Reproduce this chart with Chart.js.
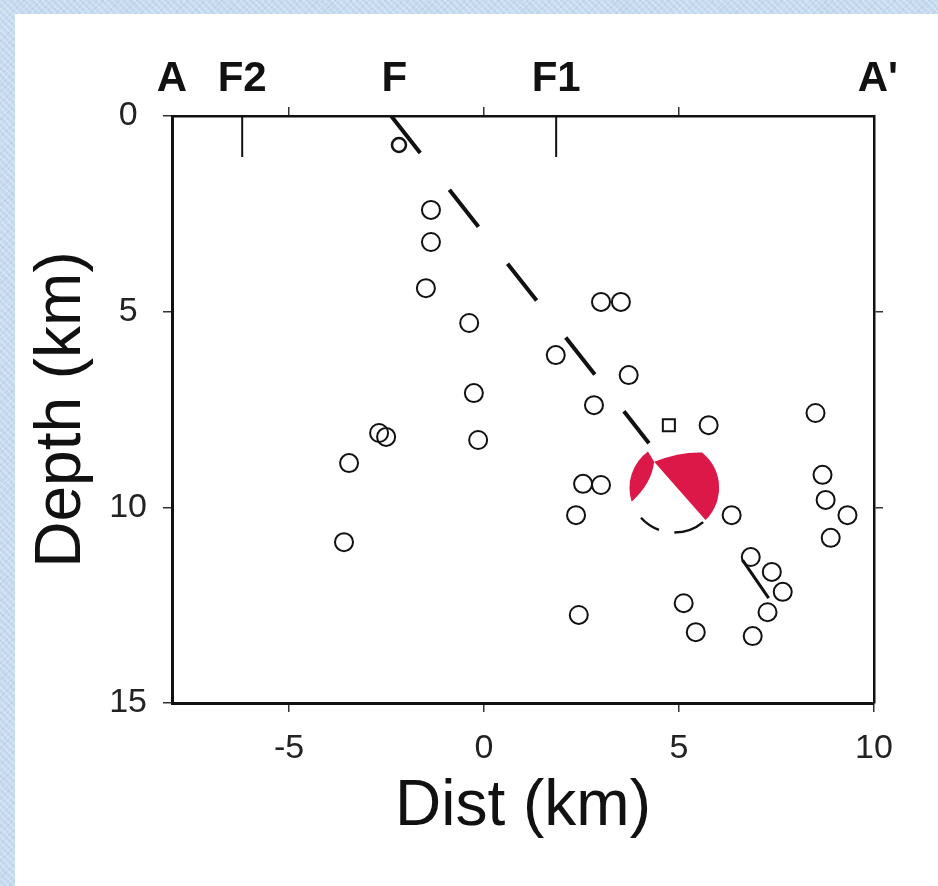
<!DOCTYPE html>
<html>
<head>
<meta charset="utf-8">
<script src="https://cdn.jsdelivr.net/npm/chart.js@4"></script>
<style>
  html, body { margin: 0; padding: 0; }
  body {
    width: 938px; height: 886px; overflow: hidden; position: relative;
    background-color: #c6dbef;
    background-image:
      repeating-linear-gradient(45deg, rgba(255,255,255,0.25) 0 2px, rgba(255,255,255,0) 2px 5px),
      repeating-linear-gradient(-45deg, rgba(150,180,215,0.25) 0 1px, rgba(150,180,215,0) 1px 4px);
  }
  #sheet { position: absolute; left: 15px; top: 14px; right: 0; bottom: 0; background: #fff; }
  #c { position: absolute; left: 0; top: 0; }
</style>
</head>
<body>
<div id="sheet"></div>
<canvas id="c" width="938" height="886"></canvas>
<script>
// Cross-section A–A': hypocentres projected onto the profile (distance, depth in km)
const quakeDist  = [-1.36, -1.36, -1.49, -0.38, -0.26, -0.15, -2.69, -2.51, -3.46, -3.59,
                     3.00,  3.51,  1.84,  3.71,  2.82,  5.76,  2.54,  3.00,  2.36,  6.35,
                     8.50,  8.68,  8.76,  9.32,  8.89,  6.84,  7.38,  7.66,  7.27,  6.89,
                     5.12,  5.43,  2.43];
const quakeDepth = [ 2.40,  3.22,  4.40,  5.29,  7.08,  8.28,  8.10,  8.20,  8.87, 10.89,
                     4.75,  4.75,  6.11,  6.62,  7.39,  7.90,  9.40,  9.43, 10.20, 10.20,
                     7.59,  9.17,  9.81, 10.20, 10.78, 11.27, 11.65, 12.16, 12.68, 13.29,
                    12.45, 13.19, 12.75];

// shallow event just below trace F
const shallowDist  = [-2.18];
const shallowDepth = [0.74];

// station / reference marker
const markerDist  = [4.74];
const markerDepth = [7.90];

// mainshock (focal mechanism) location
const mainshockDist  = [4.88];
const mainshockDepth = [9.50];

// inferred fault plane from trace F down to the mainshock
const faultDist  = [-2.38, 4.23];
const faultDepth = [0.00, 8.36];

// short lineament in the south-eastern cluster
const lineamentDist  = [6.63, 7.30];
const lineamentDepth = [11.35, 12.32];

// surface fault traces and profile ends along the top edge
const sectionMarks    = ['A', 'F2', 'F', 'F1', "A'"];
const sectionMarkDist = [-8.0, -6.2, -2.3, 1.85, 10.1];
const traceTickDist   = [-6.2, 1.85];

// axis ticks
const distTicks      = [-5, 0, 5, 10];
const depthTicks     = [0, 5, 10, 15];
const topTicks       = [-5, 0, 5];
const rightTicks     = [5, 10];

const FONT = "'Liberation Sans', Arial, Helvetica, sans-serif";
const INK = '#111';
const BALL_RED = '#dc1848';

const pts = (xs, ys) => xs.map((v, i) => ({ x: v, y: ys[i] }));
const fixTicks = vals => scale => { scale.ticks = vals.map(v => ({ value: v })); };

// compressional quadrants of the focal mechanism, drawn over the datasets
const beachball = {
  id: 'beachball',
  afterDatasetsDraw(chart) {
    const { ctx, scales: { x, y } } = chart;
    const d = Math.PI / 180;
    mainshockDist.forEach((mx, k) => {
      const cx = x.getPixelForValue(mx);
      const cy = y.getPixelForValue(mainshockDepth[k]);
      const r = Math.abs(x.getPixelForValue(mx + 1.15) - cx);
      const P = (u, v) => [cx + u * r, cy + v * r];
      const onRim = a => P(Math.cos(a * d), Math.sin(a * d));
      ctx.save();
      ctx.beginPath();
      ctx.arc(cx, cy, r, 0, 2 * Math.PI);
      ctx.fillStyle = '#fff';
      ctx.fill();

      const I = P(-0.45, -0.58);
      ctx.fillStyle = BALL_RED;
      // western lobe
      ctx.beginPath();
      ctx.arc(cx, cy, r, 162 * d, 234 * d);
      ctx.lineTo(...I);
      ctx.quadraticCurveTo(...P(-0.5, -0.1), ...onRim(162));
      ctx.closePath();
      ctx.fill();
      // eastern lobe
      ctx.beginPath();
      ctx.moveTo(...I);
      ctx.quadraticCurveTo(...P(0.1, -0.8), ...onRim(308));
      ctx.arc(cx, cy, r, 308 * d, 406 * d);
      ctx.closePath();
      ctx.fill();

      // rim, visible along the lower edge
      ctx.strokeStyle = INK;
      ctx.lineWidth = 2.5;
      ctx.beginPath(); ctx.arc(cx, cy, r, 110 * d, 138 * d); ctx.stroke();
      ctx.beginPath(); ctx.arc(cx, cy, r, 50 * d, 90 * d); ctx.stroke();
      ctx.restore();
    });
  }
};

// profile-end letters and fault-trace labels above the frame
const sectionLabels = {
  id: 'sectionLabels',
  afterDraw(chart) {
    const { ctx, chartArea, scales: { x } } = chart;
    ctx.save();
    ctx.strokeStyle = INK;
    ctx.lineWidth = 2;
    traceTickDist.forEach(v => {
      const px = x.getPixelForValue(v);
      ctx.beginPath();
      ctx.moveTo(px, chartArea.top);
      ctx.lineTo(px, chartArea.top + 41);
      ctx.stroke();
    });
    ctx.fillStyle = INK;
    ctx.font = 'bold 42px ' + FONT;
    ctx.textAlign = 'center';
    ctx.textBaseline = 'alphabetic';
    sectionMarks.forEach((t, i) => {
      ctx.fillText(t, x.getPixelForValue(sectionMarkDist[i]), chartArea.top - 25);
    });
    ctx.restore();
  }
};

const tickFont = { family: FONT, size: 34 };
const gridOpts = { drawOnChartArea: false, drawTicks: true, tickLength: 9, color: '#333', lineWidth: 1.5 };

new Chart(document.getElementById('c'), {
  type: 'scatter',
  data: {
    datasets: [
      {
        label: 'fault',
        data: pts(faultDist, faultDepth),
        showLine: true,
        borderColor: INK,
        borderWidth: 4,
        borderDash: [47, 47],
        borderCapStyle: 'butt',
        pointRadius: 0
      },
      {
        label: 'lineament',
        data: pts(lineamentDist, lineamentDepth),
        showLine: true,
        borderColor: INK,
        borderWidth: 3,
        pointRadius: 0
      },
      {
        label: 'events',
        data: pts(quakeDist, quakeDepth),
        pointStyle: 'circle',
        pointRadius: 9,
        borderWidth: 2,
        borderColor: INK,
        backgroundColor: 'rgba(255,255,255,0)'
      },
      {
        label: 'shallow',
        data: pts(shallowDist, shallowDepth),
        pointStyle: 'circle',
        pointRadius: 7,
        borderWidth: 2.5,
        borderColor: INK,
        backgroundColor: 'rgba(255,255,255,0)'
      },
      {
        label: 'marker',
        data: pts(markerDist, markerDepth),
        pointStyle: 'rect',
        pointRadius: 8.5,
        borderWidth: 2,
        borderColor: INK,
        backgroundColor: 'rgba(255,255,255,0)'
      }
    ]
  },
  options: {
    responsive: false,
    animation: false,
    devicePixelRatio: 1,
    layout: { padding: 0 },
    plugins: { legend: { display: false }, tooltip: { enabled: false } },
    scales: {
      x: {
        type: 'linear', position: 'bottom', min: -8, max: 10,
        afterBuildTicks: fixTicks(distTicks),
        afterFit: s => { s.height = 183; },
        grid: gridOpts,
        border: { display: true, color: INK, width: 3 },
        ticks: { font: tickFont, color: '#222', padding: 16, maxRotation: 0 },
        title: { display: true, text: 'Dist (km)', color: INK, font: { family: FONT, size: 64 }, padding: { top: 0, bottom: 40 } }
      },
      y: {
        type: 'linear', position: 'left', min: 0, max: 15, reverse: true,
        afterBuildTicks: fixTicks(depthTicks),
        afterFit: s => { s.width = 172; },
        grid: gridOpts,
        border: { display: true, color: INK, width: 3 },
        ticks: { font: tickFont, color: '#222', padding: 16, crossAlign: 'center' },
        title: { display: true, text: 'Depth (km)', color: INK, font: { family: FONT, size: 64 }, padding: { top: 24, bottom: 0 } }
      },
      xTop: {
        type: 'linear', position: 'top', min: -8, max: 10,
        afterBuildTicks: fixTicks(topTicks),
        afterFit: s => { s.height = 116; },
        grid: gridOpts,
        border: { display: true, color: INK, width: 2.5 },
        ticks: { display: false }
      },
      yRight: {
        type: 'linear', position: 'right', min: 0, max: 15, reverse: true,
        afterBuildTicks: fixTicks(rightTicks),
        afterFit: s => { s.width = 64; },
        grid: gridOpts,
        border: { display: true, color: INK, width: 2.5 },
        ticks: { display: false }
      }
    }
  },
  plugins: [beachball, sectionLabels]
});
</script>
</body>
</html>
